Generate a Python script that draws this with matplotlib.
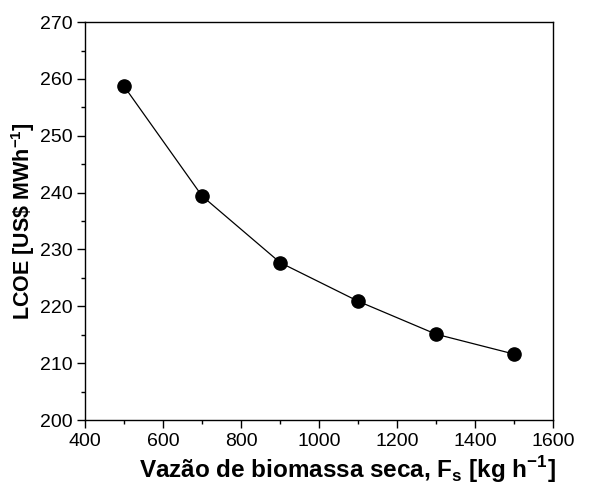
import matplotlib.pyplot as plt
from matplotlib.ticker import MultipleLocator

plt.rcParams['font.family'] = ['Liberation Sans', 'DejaVu Sans']
plt.rcParams['mathtext.fontset'] = 'custom'
plt.rcParams['mathtext.rm'] = 'Liberation Sans'
plt.rcParams['mathtext.bf'] = 'Liberation Sans:bold'

# dry biomass flow rate [kg/h] and levelized cost of energy
flow_rate = [500, 700, 900, 1100, 1300, 1500]
lcoe = [258.7, 239.4, 227.7, 220.9, 215.1, 211.6]

fig = plt.figure(figsize=(6.08, 4.91), dpi=100)
ax = fig.add_axes([0.14, 0.1446, 0.7695, 0.8104])

ax.plot(flow_rate, lcoe, color='black', linewidth=0.9,
        marker='o', markersize=9.5)

ax.set_xlim(400, 1600)
ax.set_ylim(200, 270)
ax.xaxis.set_major_locator(MultipleLocator(200))
ax.xaxis.set_minor_locator(MultipleLocator(100))
ax.yaxis.set_major_locator(MultipleLocator(10))
ax.yaxis.set_minor_locator(MultipleLocator(5))

ax.tick_params(which='both', direction='out', top=False, right=False,
               labelsize=14, width=1, pad=3)
ax.tick_params(which='major', length=6)
ax.tick_params(which='minor', length=3)
for s in ax.spines.values():
    s.set_linewidth(1)

ax.set_xlabel(r'Vazão de biomassa seca, F$_\mathbf{s}$ [kg h$^{\mathbf{-1}}$]',
              fontsize=17.5, fontweight='bold')
ax.xaxis.set_label_coords(0.56, -0.085)
ax.set_ylabel(r'LCOE [US\$ MWh$^{\mathbf{-1}}$]',
              fontsize=15.5, fontweight='bold', labelpad=2)

fig.savefig('out.png', dpi=100)
